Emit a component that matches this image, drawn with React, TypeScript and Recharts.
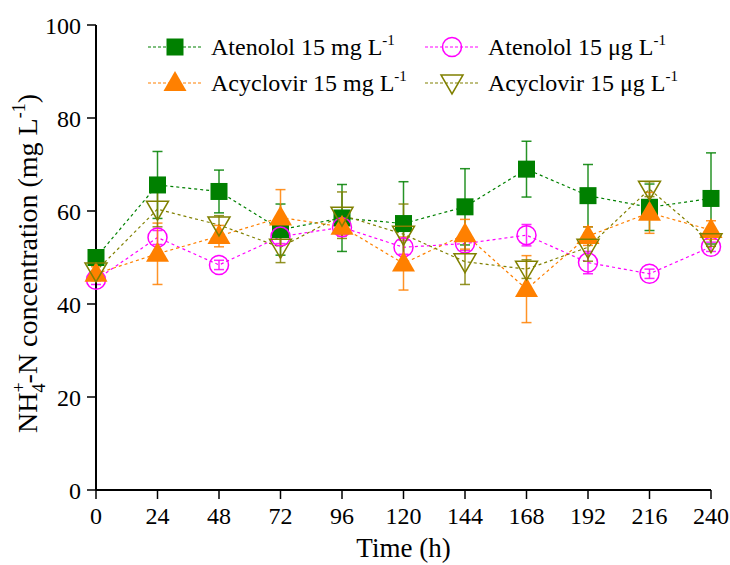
import { ComposedChart, Line, XAxis, YAxis, ErrorBar, Legend } from "recharts";

const FONT = '"Liberation Serif", "Times New Roman", serif';

const hours = [0, 24, 48, 72, 96, 120, 144, 168, 192, 216, 240];
const hourTicks = [0, 24, 48, 72, 96, 120, 144, 168, 192, 216, 240];
const concTicks = [0, 20, 40, 60, 80, 100];

const atenololMg = [50.0, 65.6, 64.2, 56.0, 58.5, 57.3, 60.9, 69.0, 63.3, 60.8, 62.7];
const atenololMgErr = [1.5, 7.2, 4.6, 5.5, 7.2, 9.0, 8.2, 6.0, 6.7, 5.0, 9.8];
const atenololUg = [45.2, 54.3, 48.4, 54.5, 56.5, 52.2, 53.0, 54.8, 48.9, 46.5, 52.3];
const atenololUgErr = [1.0, 1.5, 1.0, 1.5, 1.5, 1.5, 1.5, 2.3, 2.4, 1.0, 1.0];
const acyclovirMg = [46.5, 50.8, 54.6, 58.6, 56.6, 48.7, 55.0, 43.2, 54.6, 59.6, 55.9];
const acyclovirMgErr = [1.5, 6.6, 2.3, 6.0, 2.0, 5.7, 3.2, 7.2, 2.0, 4.4, 2.0];
const acyclovirUg = [47.1, 60.4, 57.0, 52.2, 59.1, 55.0, 49.1, 47.5, 52.2, 64.7, 53.4];
const acyclovirUgErr = [1.5, 3.8, 2.0, 3.3, 5.0, 6.5, 4.9, 2.0, 3.0, 1.6, 1.0];

const series = [
  { key: "atenololMg", name: "Atenolol 15 mg L", values: atenololMg, errors: atenololMgErr, color: "#008000", shape: "square" },
  { key: "atenololUg", name: "Atenolol 15 μg L", values: atenololUg, errors: atenololUgErr, color: "#ff00ff", shape: "circle" },
  { key: "acyclovirMg", name: "Acyclovir 15 mg L", values: acyclovirMg, errors: acyclovirMgErr, color: "#ff8000", shape: "triangle" },
  { key: "acyclovirUg", name: "Acyclovir 15 μg L", values: acyclovirUg, errors: acyclovirUgErr, color: "#808000", shape: "down" },
];

const data = hours.map((h, i) => {
  const row: Record<string, number> = { hour: h };
  series.forEach((s) => {
    row[s.key] = s.values[i];
    row[s.key + "Err"] = s.errors[i];
  });
  return row;
});

function Marker({ shape, color, cx, cy }: { shape: string; color: string; cx: number; cy: number }) {
  if (shape === "square") return <rect x={cx - 8.5} y={cy - 8.5} width={17} height={17} fill={color} />;
  if (shape === "circle") return <circle cx={cx} cy={cy} r={9.5} fill="none" stroke={color} strokeWidth={1.5} />;
  if (shape === "triangle")
    return <polygon points={`${cx},${cy - 12} ${cx - 11.5},${cy + 8} ${cx + 11.5},${cy + 8}`} fill={color} />;
  return (
    <polygon
      points={`${cx - 11},${cy - 8} ${cx + 11},${cy - 8} ${cx},${cy + 11}`}
      fill="none"
      stroke={color}
      strokeWidth={1.5}
    />
  );
}

// legend placement (2 columns x 2 rows)
const legendSlots = [
  { x: 148, y: 47 },
  { x: 425, y: 47 },
  { x: 148, y: 83 },
  { x: 425, y: 83 },
];

function LegendBox() {
  return (
    <svg width={730} height={110} style={{ display: "block" }}>
      {series.map((s, i) => {
        const p = legendSlots[i];
        return (
          <g key={s.key}>
            <line x1={p.x} y1={p.y} x2={p.x + 55} y2={p.y} stroke={s.color} strokeWidth={1.2} strokeDasharray="3 2" />
            <Marker shape={s.shape} color={s.color} cx={p.x + 27} cy={p.y} />
            <text x={p.x + 63} y={p.y + 8} fontSize={24} fontFamily={FONT} fill="#000">
              {s.name}
              <tspan fontSize={15} dy={-10}>-1</tspan>
            </text>
          </g>
        );
      })}
    </svg>
  );
}

function YLabel(props: any) {
  const vb = props.viewBox || { x: 0, y: 25, height: 465 };
  const x = vb.x + 37;
  const y = vb.y + vb.height / 2 + 6;
  return (
    <text x={x} y={y} transform={`rotate(-90, ${x}, ${y})`} textAnchor="middle" fontSize={28} fontFamily={FONT} fill="#000">
      NH
      <tspan fontSize={18} dy={-12}>+</tspan>
      <tspan fontSize={18} dx={-10} dy={20}>4</tspan>
      <tspan dy={-8}>-N concentration (mg L</tspan>
      <tspan fontSize={18} dy={-12}>-1</tspan>
      <tspan dy={12}>)</tspan>
    </text>
  );
}

export default function App() {
  const tickStyle = { fontSize: 24, fontFamily: FONT, fill: "#000" };
  return (
    <div style={{ position: "absolute", left: 0, top: 0 }}>
      <ComposedChart width={730} height={565} data={data} margin={{ top: 25, right: 19, bottom: 0, left: 0 }}>
        <XAxis
          dataKey="hour"
          type="number"
          domain={[0, 240]}
          ticks={hourTicks}
          interval={0}
          height={75}
          tick={tickStyle}
          tickSize={9}
          tickMargin={8}
          axisLine={{ stroke: "#000", strokeWidth: 2 }}
          tickLine={{ stroke: "#000", strokeWidth: 1.5 }}
          label={{ value: "Time (h)", position: "insideBottom", offset: 8, fontSize: 27, fontFamily: FONT, fill: "#000" }}
        />
        <XAxis
          xAxisId="top"
          dataKey="hour"
          type="number"
          orientation="top"
          domain={[0, 240]}
          ticks={hourTicks}
          height={0}
          tick={false}
          mirror
          tickSize={5}
          axisLine={{ stroke: "#000", strokeWidth: 2 }}
          tickLine={{ stroke: "#000", strokeWidth: 1 }}
        />
        <YAxis
          type="number"
          domain={[0, 100]}
          ticks={concTicks}
          width={96}
          tick={tickStyle}
          tickSize={9}
          tickMargin={6}
          axisLine={{ stroke: "#000", strokeWidth: 2 }}
          tickLine={{ stroke: "#000", strokeWidth: 1.5 }}
          label={{ content: (p: any) => <YLabel viewBox={p.viewBox} /> }}
        />
        <YAxis
          yAxisId="right"
          orientation="right"
          type="number"
          domain={[0, 100]}
          ticks={concTicks}
          width={0}
          tick={false}
          mirror
          tickSize={5}
          axisLine={{ stroke: "#000", strokeWidth: 2 }}
          tickLine={{ stroke: "#000", strokeWidth: 1 }}
        />
        <Legend
          layout="horizontal"
          verticalAlign="middle"
          align="center"
          wrapperStyle={{ top: 0, left: 0, width: 730, height: 110 }}
          content={() => <LegendBox />}
        />
        {series.map((s) => (
          <Line
            key={s.key}
            dataKey={s.key}
            name={s.name}
            type="linear"
            stroke={s.color}
            strokeWidth={1.2}
            strokeDasharray="3 3"
            isAnimationActive={false}
            activeDot={false}
            dot={(p: any) => <Marker key={`${s.key}-${p.index}`} shape={s.shape} color={s.color} cx={p.cx} cy={p.cy} />}
          >
            <ErrorBar dataKey={s.key + "Err"} width={5} stroke={s.color} strokeWidth={1.5} strokeOpacity={0.85} direction="y" />
          </Line>
        ))}
      </ComposedChart>
    </div>
  );
}
